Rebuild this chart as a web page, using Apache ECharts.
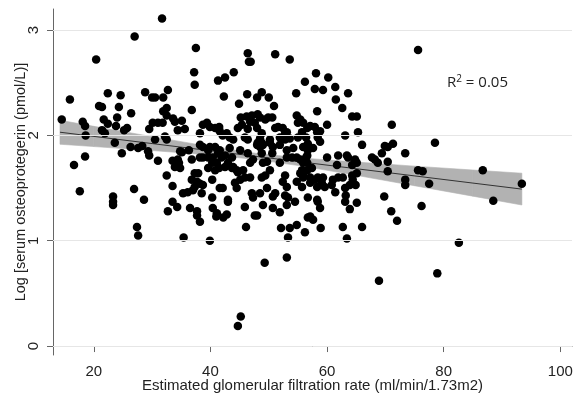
<!DOCTYPE html>
<html>
<head>
<meta charset="utf-8">
<script src="https://cdn.jsdelivr.net/npm/echarts@6/dist/echarts.min.js"></script>
<style>html,body{margin:0;padding:0;background:#fff}#chart{width:575px;height:395px}</style>
</head>
<body>
<div id="chart"></div>
<script>
// [eGFR, log OPG]
var patients = [
[14.5,2.15],[15.9,2.34],[16.6,1.72],[17.6,1.47],[18.1,2.13],[18.5,2.09],[18.6,2.00],[18.5,1.80],[20.4,2.72],
[20.9,2.28],[21.4,2.27],[21.7,2.15],[21.4,2.05],[21.9,2.02],[22.4,2.40],[22.4,2.11],[23.8,2.09],[24.0,2.17],
[23.3,1.42],[23.3,1.37],[23.3,1.34],[23.6,1.93],[24.3,2.27],[24.6,2.38],[24.8,1.83],[25.2,2.05],[25.7,2.07],
[26.3,1.89],[26.4,2.21],[26.9,1.49],[27.0,2.94],[27.4,1.13],[27.6,1.05],[27.6,1.88],[28.3,1.90],[28.6,1.39],
[28.8,2.41],[29.3,1.85],[29.5,1.81],[29.5,2.06],
[30.0,2.36],[30.5,2.36],[30.5,1.96],[30.1,2.12],[31.0,2.12],[31.8,2.12],[31.7,3.11],[31.9,2.36],[32.7,2.43],
[31.9,2.23],[32.5,2.26],[32.5,2.19],[33.6,2.16],[33.9,2.13],[35.1,2.14],[36.8,2.24],[37.3,2.48],[37.2,2.60],
[37.5,2.83],[32.2,1.99],[32.5,1.96],[31.0,1.76],[32.5,1.62],[33.5,1.52],[33.5,1.76],[34.4,1.77],[34.6,1.74],
[33.9,1.70],[34.8,1.69],[35.1,1.84],[36.3,1.86],[34.8,1.85],[36.8,1.77],[35.3,1.45],[36.1,1.46],[37.0,1.48],
[37.3,1.51],[36.8,1.58],[37.7,1.56],[37.3,1.64],[37.9,1.64],[32.7,1.28],[33.5,1.37],[34.3,1.32],[35.4,1.03],
[36.5,1.31],[37.7,1.28],[37.7,1.24],[38.2,1.18],[34.4,2.05],[35.6,2.06],
[38.2,2.02],[38.7,2.10],[39.4,2.12],[39.9,2.08],[40.8,2.07],[41.5,2.08],[38.2,1.91],[38.7,1.89],[39.9,1.89],
[40.8,1.89],[41.3,2.52],[42.5,2.55],[44.0,2.60],[42.3,2.37],[44.9,2.30],[41.6,2.04],[42.1,2.00],[43.3,1.98],
[43.9,1.96],[42.8,2.02],[41.6,1.86],[43.3,1.88],[45.1,1.86],
[38.7,1.79],[39.6,1.86],[40.4,1.79],[41.1,1.74],[41.3,1.83],[41.9,1.79],[42.5,1.81],[43.0,1.74],[43.7,1.79],
[43.9,1.70],[44.7,1.65],[38.2,1.79],[39.6,1.79],[40.3,1.74],[39.6,1.69],[40.8,1.67],[41.5,1.69],[42.5,1.70],
[43.7,1.69],[44.5,1.67],[45.6,1.67],
[38.2,1.54],[38.7,1.53],[40.3,1.58],[41.6,1.50],[38.5,1.45],[40.3,1.41],[42.1,1.50],[43.0,1.39],[44.2,1.55],
[44.5,1.50],[45.1,1.58],[45.9,1.60],[46.8,1.60],
[40.4,1.31],[41.1,1.26],[41.0,1.23],[42.2,1.22],[42.8,1.25],[43.0,1.37],[39.9,1.00],
[46.4,2.78],[46.6,2.70],[46.9,2.70],[51.1,2.77],[53.6,2.72],[46.3,2.39],[48.0,2.36],[48.8,2.41],[50.0,2.36],
[50.9,2.28],[54.7,2.40],[56.2,2.51],[58.1,2.59],[57.9,2.44],[58.3,2.23],[54.8,2.19],[55.4,2.15],[55.0,2.12],
[55.9,2.12],[56.6,2.07],[57.1,2.09],[57.9,2.08],[58.3,2.03],[58.4,1.98],[55.7,2.03],[56.4,1.98],
[45.2,2.17],[46.2,2.18],[47.1,2.19],[48.1,2.20],[48.5,2.17],[49.9,2.17],[50.6,2.17],[46.8,2.13],[47.6,2.12],
[49.4,2.15],[45.4,2.10],[44.7,2.07],[46.4,2.06],[48.0,2.07],[48.8,2.02],[51.1,2.07],[51.6,2.08],[52.4,2.07],
[52.8,2.02],[53.1,2.03],[51.9,1.98],[45.9,1.98],[46.4,1.96],[48.5,1.97],[50.2,1.96],[52.8,1.96],[53.6,1.97],
[55.0,1.98],
[48.0,1.91],[48.5,1.89],[49.0,1.91],[50.7,1.89],[53.1,1.86],[54.2,1.88],[55.9,1.89],[56.7,1.86],[57.6,1.88],
[48.1,1.93],[48.8,1.93],[50.2,1.93],[51.9,1.91],
[46.4,1.83],[46.8,1.74],[47.3,1.77],[48.8,1.83],[49.0,1.74],[49.7,1.75],[50.6,1.83],[51.9,1.74],[53.1,1.79],
[54.0,1.79],[54.8,1.79],[55.4,1.77],[55.9,1.74],[56.6,1.81],[56.6,1.74],[56.6,1.67],[56.4,1.79],[55.7,1.67],
[55.4,1.64],[55.9,1.62],[56.7,1.92],
[48.8,1.60],[49.4,1.62],[50.2,1.67],[52.8,1.62],[52.4,1.56],[53.1,1.51],[54.8,1.56],[55.9,1.60],[55.7,1.51],
[57.1,1.55],[57.4,1.69],[57.1,1.60],[57.9,1.58],[58.4,1.60],[58.3,1.51],
[47.1,1.45],[47.3,1.41],[48.5,1.45],[49.7,1.50],[49.0,1.34],[50.7,1.31],[51.1,1.45],[50.7,1.42],[52.8,1.43],
[53.1,1.34],[51.9,1.27],[53.3,1.41],[47.6,1.24],[54.5,1.37],[56.7,1.41],[58.3,1.39],[57.1,1.23],[57.6,1.20],
[58.4,1.37],[45.9,1.32],[46.1,1.13],[48.0,1.24],
[52.1,1.12],[53.6,1.12],[53.3,1.03],[54.8,1.15],[56.2,1.08],[56.7,1.22],[58.9,1.12],[49.3,0.79],[53.1,0.84],
[45.2,0.28],[44.7,0.19],
[59.3,2.43],[60.2,2.55],[61.4,2.46],[61.5,2.34],[63.6,2.40],[62.6,2.26],[64.3,2.18],[65.1,2.18],[60.0,2.10],
[63.1,2.00],[65.3,2.03],[66.0,1.91],[71.1,2.10],[69.9,1.90],[71.3,1.92],[58.8,2.04],[58.8,1.94],[69.4,1.83],
[70.4,1.89],[73.4,1.83],[63.4,1.81],[75.6,2.81],
[60.0,1.79],[61.7,1.72],[63.6,1.79],[64.8,1.77],[65.1,1.74],[64.3,1.72],[67.7,1.79],[68.2,1.77],[68.7,1.74],
[70.4,1.75],[70.4,1.66],[75.6,1.67],[76.4,1.66],[61.9,1.81],
[59.3,1.60],[59.1,1.55],[59.6,1.51],[60.8,1.53],[61.4,1.46],[61.9,1.60],[62.7,1.60],[64.4,1.58],[64.9,1.53],
[63.9,1.53],[63.1,1.50],[63.2,1.43],[63.1,1.37],[58.8,1.31],[63.9,1.30],[65.1,1.36],[61.0,1.58],[64.3,1.62],
[65.1,1.64],
[69.8,1.42],[71.0,1.28],[72.0,1.19],[62.7,1.13],[63.4,1.02],[66.0,1.13],[68.9,0.62],[73.4,1.58],[73.4,1.53],
[76.2,1.33],[77.5,1.54],[78.5,1.93],[78.9,0.69],[82.6,0.98],[86.7,1.67],[88.5,1.38],[93.4,1.54]
];

var xTickValues = [20, 40, 60, 80, 100];
var yTickValues = [0, 1, 2, 3];

var fitX = [14.2, 93.4];
var fitY = [2.03, 1.49];

var bandX     = [14.2, 20, 30, 40, 48, 56, 65, 75, 85, 93.4];
var bandLower = [1.916, 1.894, 1.856, 1.815, 1.770, 1.706, 1.621, 1.522, 1.423, 1.339];
var bandUpper = [2.144, 2.086, 1.988, 1.893, 1.828, 1.784, 1.747, 1.708, 1.671, 1.641];

var xTitle = 'Estimated glomerular filtration rate (ml/min/1.73m2)';
var yTitle = 'Log [serum osteoprotegerin (pmol/L)]';

var font = 'Liberation Sans, Arial, sans-serif';
var bandData = bandX.map(function (x, i) { return [x, bandLower[i], bandUpper[i]]; });
var fitData = fitX.map(function (x, i) { return [x, fitY[i]]; });
var bandColor = '#b2b2b2';

var chart = echarts.init(document.getElementById('chart'), null, {renderer: 'canvas'});
chart.setOption({
  animation: false,
  backgroundColor: '#fff',
  grid: {left: 53, right: 3, top: 9, bottom: 40, containLabel: false, outerBoundsMode: 'none'},
  xAxis: {
    type: 'value', min: 13, max: 102,
    axisLine: {show: true, lineStyle: {color: '#666', width: 1}},
    axisTick: {show: true, customValues: xTickValues, length: 6, lineStyle: {color: '#666'}},
    axisLabel: {customValues: xTickValues, margin: 9, fontSize: 15, color: '#222', fontFamily: font},
    splitLine: {show: false},
    name: xTitle, nameLocation: 'middle', nameGap: 23, nameMoveOverlap: false,
    nameTextStyle: {fontSize: 15, color: '#222', fontFamily: font, verticalAlign: 'top'}
  },
  yAxis: {
    type: 'value', min: -0.085, max: 3.2,
    axisLine: {show: true, lineStyle: {color: '#666', width: 1}},
    axisTick: {show: true, customValues: yTickValues, length: 6, lineStyle: {color: '#666'}},
    axisLabel: {customValues: yTickValues, rotate: 90, margin: 12, fontSize: 15, color: '#222', fontFamily: font},
    splitLine: {show: false},
    name: yTitle, nameLocation: 'middle', nameGap: 25, nameRotate: 90, nameMoveOverlap: false,
    nameTextStyle: {fontSize: 14.5, color: '#222', fontFamily: font, verticalAlign: 'bottom'}
  },
  graphic: [{
    type: 'text', left: 447, top: 74, z: 100,
    style: {
      text: '{a|R}{s|2}{a| = 0.05}',
      rich: {
        a: {fontSize: 15, fontFamily: 'Open Sans, sans-serif', fill: '#222'},
        s: {fontSize: 10, fontFamily: 'Open Sans, sans-serif', fill: '#222', verticalAlign: 'top', padding: [0, 0, 7, 0]}
      }
    }
  }],
  series: [
    {
      type: 'scatter', data: [], silent: true, z: 0,
      markLine: {
        silent: true, symbol: ['none', 'none'], label: {show: false},
        lineStyle: {color: '#e6e6e6', width: 1, type: 'solid'},
        data: yTickValues.map(function (v) { return {yAxis: v}; })
      }
    },
    {
      type: 'custom', data: bandData, z: 1, silent: true,
      encode: {x: 0, y: [1, 2]},
      renderItem: function (params, api) {
        var i = params.dataIndex;
        if (i >= bandData.length - 1) return null;
        var a = bandData[i], b = bandData[i + 1];
        var p1 = api.coord([a[0], a[1]]), p2 = api.coord([b[0], b[1]]);
        var p3 = api.coord([b[0], b[2]]), p4 = api.coord([a[0], a[2]]);
        return {
          type: 'polygon',
          shape: {points: [p1, p2, p3, p4]},
          style: {fill: bandColor, stroke: bandColor, lineWidth: 0.6}
        };
      }
    },
    {
      type: 'line', data: fitData, symbol: 'none', showSymbol: false,
      lineStyle: {color: '#333', width: 1}, z: 2, silent: true
    },
    {
      type: 'scatter', data: patients, symbol: 'circle', symbolSize: 8.5,
      itemStyle: {color: '#000', opacity: 1}, z: 3
    }
  ]
});
</script>
</body>
</html>
